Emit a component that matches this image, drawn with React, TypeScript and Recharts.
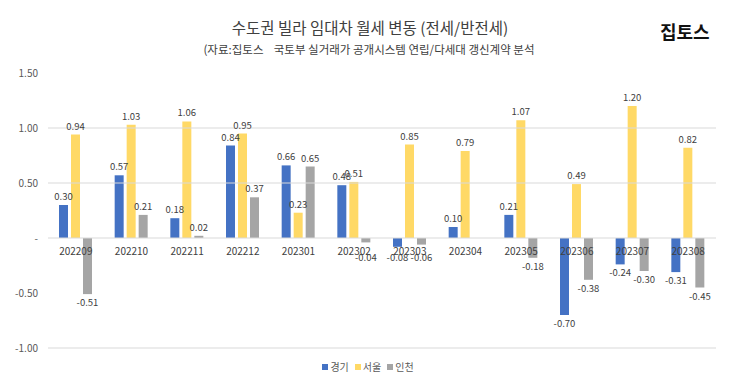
import React from "react";
import { BarChart, Bar, XAxis, YAxis, ReferenceLine, LabelList } from "recharts";

const categories = ["202209", "202210", "202211", "202212", "202301", "202302", "202303", "202304", "202305", "202306", "202307", "202308"];
const seriesNames = ["경기", "서울", "인천"];
const gyeonggi = [0.30, 0.57, 0.18, 0.84, 0.66, 0.48, -0.08, 0.10, 0.21, -0.70, -0.24, -0.31];
const seoul = [0.94, 1.03, 1.06, 0.95, 0.23, 0.51, 0.85, 0.79, 1.07, 0.49, 1.20, 0.82];
const incheon = [-0.51, 0.21, 0.02, 0.37, 0.65, -0.04, -0.06, 0, -0.18, -0.38, -0.30, -0.45];
const yTicks = [-1, -0.5, 0, 0.5, 1, 1.5];
const gridValues = [-1, 0.5, 1];
const colors = ["#4472C4", "#FFD966", "#A5A5A5"];
const keys = ["g", "s", "i"];

const data = categories.map((c, idx) => ({ name: c, g: gyeonggi[idx], s: seoul[idx], i: incheon[idx] }));

const W = 730;
const H = 379;
const TOP = 73;
const BOTTOM = 31;
const XH = 1;
const LEFT = 48;
const RIGHT = 14;
const Y_MIN = -1;
const Y_MAX = 1.5;
const FONT = "'Noto Sans CJK KR', 'Noto Sans', sans-serif";
const zeroY = TOP + (H - TOP - BOTTOM) * (Y_MAX / (Y_MAX - Y_MIN));

const fmt = (v: number) => (v === 0 ? "-" : v.toFixed(2));

const renderLabel = (props: any) => {
  const { x, y, width, height, value } = props;
  const v = Number(value);
  const top = Math.min(y, y + height);
  const bottom = Math.max(y, y + height);
  const cx = x + width / 2;
  const ty = v >= 0 ? top - 5 : Math.max(bottom + 12, zeroY + 23);
  return (
    <text x={cx} y={ty} textAnchor="middle" fontSize={9.5} fill="#404040" fontFamily={FONT}>
      {fmt(v)}
    </text>
  );
};

const XTick = (props: any) => {
  const { x, payload } = props;
  return (
    <text x={x} y={zeroY + 17} textAnchor="middle" fontSize={10} fill="#404040" fontFamily={FONT}>
      {payload.value}
    </text>
  );
};

export default function App() {
  return (
    <div style={{ position: "absolute", left: 0, top: 0, width: W, height: H, background: "#fff", fontFamily: FONT }}>
      <div style={{ position: "absolute", left: 0, width: W, top: 16, textAlign: "center", paddingLeft: 10, boxSizing: "border-box", fontSize: 15.5, color: "#404040" }}>
        수도권 빌라 임대차 월세 변동 (전세/반전세)
      </div>
      <div style={{ position: "absolute", left: 0, width: W, top: 41, textAlign: "center", paddingLeft: 8, boxSizing: "border-box", fontSize: 11.5, color: "#404040" }}>
        (자료:집토스&nbsp;&nbsp;&nbsp;&nbsp;국토부 실거래가 공개시스템 연립/다세대 갱신계약 분석
      </div>
      <div style={{ position: "absolute", left: 660, top: 18, fontSize: 18, fontWeight: 700, color: "#111" }}>집토스</div>
      <BarChart width={W} height={H} data={data} margin={{ top: TOP, bottom: BOTTOM - XH, left: 8, right: RIGHT }} barSize={9} barGap={3}>
        {gridValues.map((v) => (
          <ReferenceLine key={v} y={v} stroke="#d9d9d9" strokeWidth={1} />
        ))}
        <ReferenceLine y={0} stroke="#d9d9d9" strokeWidth={1} />
        <XAxis dataKey="name" axisLine={false} tickLine={false} tick={<XTick />} interval={0} height={XH} />
        <YAxis
          width={LEFT - 8}
          domain={[Y_MIN, Y_MAX]}
          ticks={yTicks}
          tickFormatter={fmt}
          axisLine={false}
          tickLine={false}
          tickSize={0}
          tickMargin={10}
          tick={{ fontSize: 10, fill: "#595959", fontFamily: FONT }}
        />
        {keys.map((k, idx) => (
          <Bar key={k} dataKey={k} name={seriesNames[idx]} fill={colors[idx]} isAnimationActive={false}>
            <LabelList dataKey={k} content={renderLabel} />
          </Bar>
        ))}
      </BarChart>
      <div style={{ position: "absolute", left: 0, width: W, top: 359, display: "flex", justifyContent: "center", paddingLeft: 12, boxSizing: "border-box", fontSize: 10, color: "#595959" }}>
        {seriesNames.map((n, idx) => (
          <span key={n} style={{ display: "inline-flex", alignItems: "center", marginRight: 6 }}>
            <span style={{ display: "inline-block", width: 6, height: 6, background: colors[idx], marginRight: 2 }} />
            {n}
          </span>
        ))}
      </div>
    </div>
  );
}
